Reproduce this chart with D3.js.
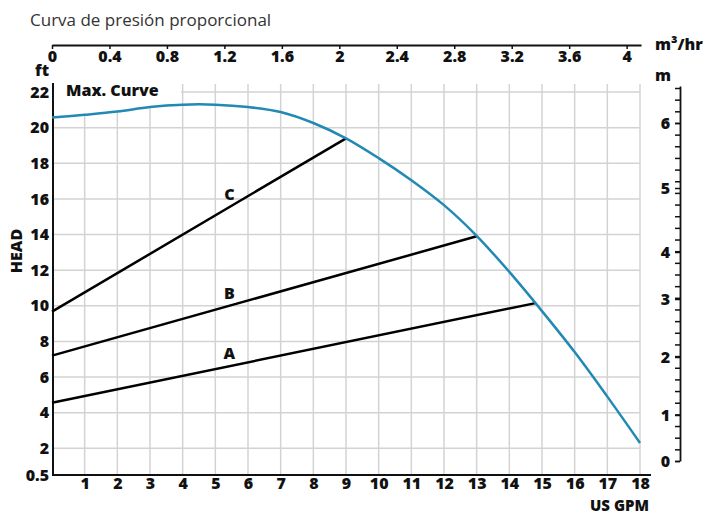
<!DOCTYPE html>
<html>
<head>
<meta charset="utf-8">
<script src="https://cdn.jsdelivr.net/npm/d3@7/dist/d3.min.js"></script>
<style>
  html, body { margin: 0; padding: 0; background: #fff; }
  svg { display: block; font-family: "Open Sans", Lato, sans-serif; }
</style>
</head>
<body>
<script>
// ---- Data ----
const title = "Curva de presión proporcional";
// Max curve (US GPM, ft)
const maxGpm  = [0, 1, 2, 3, 4, 5, 6, 7, 8, 9, 10, 11, 12, 13, 14, 15, 16, 17, 18];
const maxHead = [20.57, 20.72, 20.9, 21.16, 21.29, 21.29, 21.16, 20.88, 20.26, 19.4, 18.29, 17.05, 15.65, 13.93, 11.9, 9.7, 7.4, 4.9, 2.3];
// Proportional pressure lines: name, start head (at 0 GPM), end GPM, end head
const lineNames = ["A", "B", "C"];
const lineStartHead = [4.56, 7.2, 9.67];
const lineEndGpm = [14.8, 13.0, 9.0];
const lineEndHead = [10.15, 13.9, 19.4];
const labelGpm = 5.43;
// Axis ticks
const gpmTicks = [1,2,3,4,5,6,7,8,9,10,11,12,13,14,15,16,17,18];
const ftTicks = [0.5, 2, 4, 6, 8, 10, 12, 14, 16, 18, 20, 22];
const m3Ticks = [0, 0.4, 0.8, 1.2, 1.6, 2, 2.4, 2.8, 3.2, 3.6, 4];
const mTicks = [0, 1, 2, 3, 4, 5, 6];
const mScaleDomain = [0, 1, 2, 3, 4, 5, 6, 6.6];
const mMinorCount = 32;

// ---- Layout ----
const W = 705, H = 515;
const svg = d3.select("body").append("svg").attr("width", W).attr("height", H);

const x = d3.scaleLinear().domain([0, 18]).range([52, 640]);
const y = d3.scaleLinear().domain([0.5, 22.45]).range([475, 84]);
const xTop = d3.scaleLinear().domain([0, 4.1]).range([52, 641]);
const mScale = d3.scaleLinear().domain(mScaleDomain).range([461, 415, 357, 299, 252, 188, 123, 86]);
const mMinor = d3.scaleLinear().domain([0, mMinorCount]).range([461, 88]);

const FONT = 16;
const FAM = "'Open Sans', Lato, sans-serif";
const gridColor = "#d3d3d3";
const blue = "#2189b3";

// Title
svg.append("text").attr("x", 30).attr("y", 26)
  .attr("font-size", 17).attr("fill", "#333").text(title);

// Grid
const grid = svg.append("g");
grid.selectAll("line.v").data(gpmTicks).join("line")
  .attr("x1", d => x(d)).attr("x2", d => x(d))
  .attr("y1", y(22.45)).attr("y2", y(0.5))
  .attr("stroke", gridColor).attr("stroke-width", 1.5);
grid.selectAll("line.h").data(ftTicks.filter(d => d > 1)).join("line")
  .attr("x1", x(0)).attr("x2", x(18))
  .attr("y1", d => y(d)).attr("y2", d => y(d))
  .attr("stroke", gridColor).attr("stroke-width", 1.5);

const maxData = maxGpm.map((g, i) => ({ g, h: maxHead[i] }));
const curve = d3.curveCatmullRom.alpha(0.5);

// White area above curve behind "Max. Curve" label
const maskData = maxData.filter(d => d.g <= 4).map(d => ({ g: Math.min(d.g, 3.95), h: d.h }));
svg.append("path").datum(maskData)
  .attr("d", d3.area().x(d => x(d.g)).y0(y(22.45) - 1).y1(d => y(d.h) - 1).curve(curve))
  .attr("fill", "#fff");

// Axes
const bottomAxis = svg.append("g").attr("transform", `translate(0,${y(0.5)})`)
  .call(d3.axisBottom(x).tickValues(gpmTicks).tickSize(0).tickPadding(3).tickSizeOuter(0));
bottomAxis.select(".domain").remove();
svg.append("line").attr("x1", x(0)).attr("x2", 651).attr("y1", y(0.5)).attr("y2", y(0.5))
  .attr("stroke", "#111").attr("stroke-width", 2);

const leftAxis = svg.append("g").attr("transform", `translate(${x(0) + 1},0)`)
  .call(d3.axisLeft(y).tickValues(ftTicks).tickSize(0).tickPadding(4)
    .tickFormat(d => d === 0.5 ? "0.5" : d3.format("d")(d)));
leftAxis.select(".domain").remove();
svg.append("line").attr("x1", x(0) + 1).attr("x2", x(0) + 1).attr("y1", y(22.45) - 1).attr("y2", y(0.5))
  .attr("stroke", "#111").attr("stroke-width", 2);

const topAxis = svg.append("g").attr("transform", "translate(0,45)")
  .call(d3.axisBottom(xTop).tickValues(m3Ticks).tickSize(4).tickPadding(2).tickSizeOuter(0)
    .tickFormat(d => String(+d.toFixed(1))));
topAxis.select(".domain").attr("stroke", "#111").attr("stroke-width", 2);
topAxis.selectAll(".tick line").attr("stroke", "#111").attr("stroke-width", 1.5);

const rightAxis = svg.append("g").attr("transform", "translate(680,0)")
  .call(d3.axisLeft(mScale).tickValues(mTicks).tickSize(5).tickPadding(5).tickSizeOuter(0)
    .tickFormat(d3.format("d")));
rightAxis.select(".domain").attr("stroke", "#111").attr("stroke-width", 1.8);
rightAxis.selectAll(".tick line").attr("stroke", "#111").attr("stroke-width", 1.5);
const rightMinor = svg.append("g").attr("transform", "translate(680,0)")
  .call(d3.axisLeft(mMinor).tickValues(d3.range(0, mMinorCount + 1)).tickSize(5).tickFormat("").tickSizeOuter(0));
rightMinor.select(".domain").remove();
rightMinor.selectAll(".tick line").attr("stroke", "#111").attr("stroke-width", 1.5);

svg.selectAll(".tick text")
  .attr("font-size", FONT).attr("font-weight", 800).attr("fill", "#111")
  .attr("font-family", FAM);

// Axis titles
const bold = sel => sel.attr("font-size", FONT).attr("font-weight", 800).attr("fill", "#111").attr("font-family", FAM);
svg.append("text").attr("x", 42).attr("y", 76).attr("text-anchor", "middle").text("ft").call(bold);
svg.append("text").attr("x", 655).attr("y", 50).text("m³/hr").call(bold);
svg.append("text").attr("x", 663).attr("y", 81).attr("text-anchor", "middle").text("m").call(bold);
svg.append("text").attr("x", 649).attr("y", 510.5).attr("text-anchor", "end").text("US GPM").call(bold)
  .attr("font-size", 15);
svg.append("text").attr("transform", "translate(22,251) rotate(-90)").attr("text-anchor", "middle")
  .text("HEAD").call(bold);
svg.append("text").attr("x", 66).attr("y", 96).text("Max. Curve").call(bold);

// Proportional lines
const lines = lineNames.map((n, i) => ({
  name: n,
  pts: [{ g: 0, h: lineStartHead[i] }, { g: lineEndGpm[i], h: lineEndHead[i] }]
}));
const lineGen = d3.line().x(d => x(d.g)).y(d => y(d.h));
svg.selectAll("path.prop").data(lines).join("path")
  .attr("class", "prop")
  .attr("d", d => lineGen(d.pts))
  .attr("fill", "none").attr("stroke", "#000").attr("stroke-width", 2.5);
svg.selectAll("text.plabel").data(lines).join("text")
  .attr("class", "plabel")
  .attr("x", x(labelGpm))
  .attr("y", d => {
    const p = d.pts;
    const h = p[0].h + (p[1].h - p[0].h) * labelGpm / p[1].g;
    return y(h) - 7;
  })
  .attr("text-anchor", "middle")
  .text(d => d.name).call(bold);

// Max curve
svg.append("path").datum(maxData)
  .attr("d", d3.line().x(d => x(d.g)).y(d => y(d.h)).curve(curve))
  .attr("fill", "none").attr("stroke", blue).attr("stroke-width", 2.5);
</script>
</body>
</html>
